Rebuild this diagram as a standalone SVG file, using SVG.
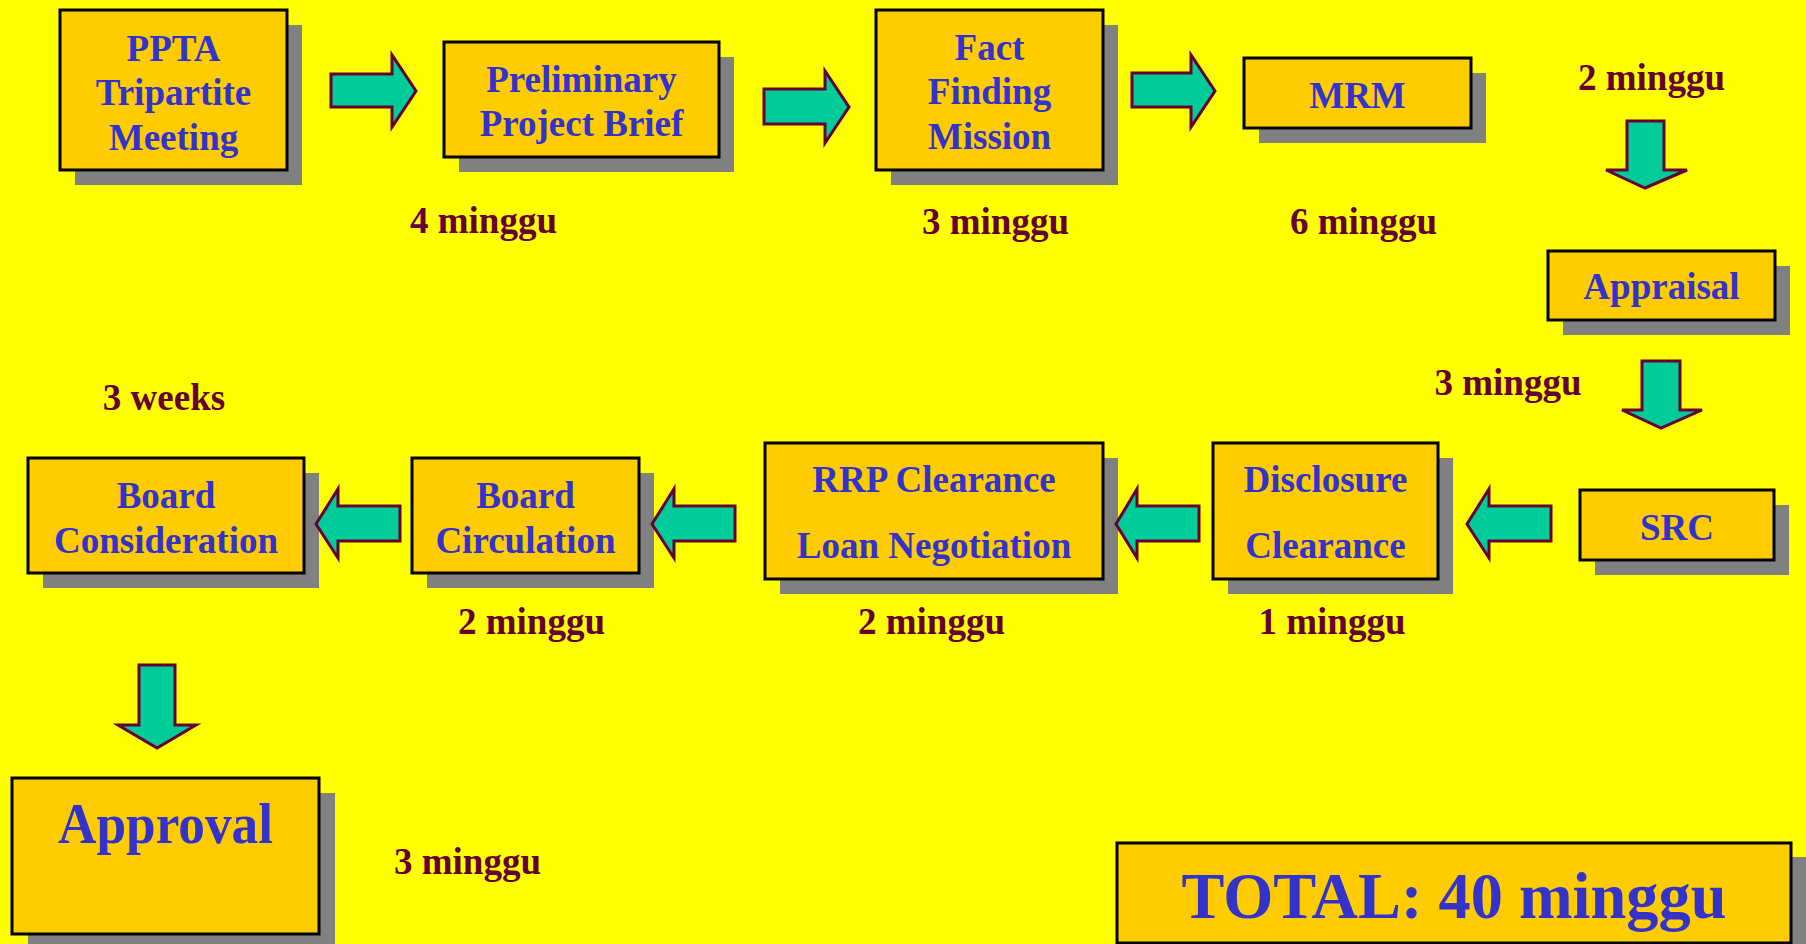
<svg xmlns="http://www.w3.org/2000/svg" width="1806" height="944" viewBox="0 0 1806 944">
<style>
.sh{fill:#808080}
.bx{fill:#FFCC00;stroke:#000;stroke-width:3}
.t{font-family:"Liberation Serif","Times New Roman",serif;font-weight:bold;font-size:37px;fill:#3333CC;text-anchor:middle}
.l{font-family:"Liberation Serif","Times New Roman",serif;font-weight:bold;font-size:37px;fill:#660033;text-anchor:middle}
.ar{fill:#00CC99;stroke:#660033;stroke-width:3;stroke-linejoin:miter}
</style>
<rect width="1806" height="944" fill="#FFFF00"/>
<g id="n-ppta"><rect class="sh" x="75" y="25" width="227" height="160"/><rect class="bx" x="60" y="10" width="227" height="160"/>
<text class="t" x="173.5" y="61">PPTA</text><text class="t" x="173.5" y="105">Tripartite</text><text class="t" x="173.5" y="150">Meeting</text></g>
<g id="n-prelim"><rect class="sh" x="459" y="57" width="275" height="115"/><rect class="bx" x="444" y="42" width="275" height="115"/>
<text class="t" x="581.5" y="92">Preliminary</text><text class="t" x="581.5" y="136">Project Brief</text></g>
<g id="n-fact"><rect class="sh" x="891" y="25" width="227" height="160"/><rect class="bx" x="876" y="10" width="227" height="160"/>
<text class="t" x="989.5" y="60">Fact</text><text class="t" x="989.5" y="104">Finding</text><text class="t" x="989.5" y="149">Mission</text></g>
<g id="n-mrm"><rect class="sh" x="1259" y="73" width="227" height="70"/><rect class="bx" x="1244" y="58" width="227" height="70"/>
<text class="t" x="1357.5" y="108">MRM</text></g>
<g id="n-appraisal"><rect class="sh" x="1563" y="266" width="227" height="69"/><rect class="bx" x="1548" y="251" width="227" height="69"/>
<text class="t" x="1661.5" y="299">Appraisal</text></g>
<g id="n-src"><rect class="sh" x="1595" y="505" width="194" height="70"/><rect class="bx" x="1580" y="490" width="194" height="70"/>
<text class="t" x="1677" y="540">SRC</text></g>
<g id="n-disclosure"><rect class="sh" x="1228" y="458" width="225" height="136"/><rect class="bx" x="1213" y="443" width="225" height="136"/>
<text class="t" x="1325.5" y="492">Disclosure</text><text class="t" x="1325.5" y="558">Clearance</text></g>
<g id="n-rrp"><rect class="sh" x="780" y="458" width="338" height="136"/><rect class="bx" x="765" y="443" width="338" height="136"/>
<text class="t" x="934" y="492">RRP Clearance</text><text class="t" x="934" y="558">Loan Negotiation</text></g>
<g id="n-boardcirc"><rect class="sh" x="427" y="473" width="227" height="115"/><rect class="bx" x="412" y="458" width="227" height="115"/>
<text class="t" x="525.5" y="508">Board</text><text class="t" x="525.5" y="553">Circulation</text></g>
<g id="n-boardcons"><rect class="sh" x="43" y="473" width="276" height="115"/><rect class="bx" x="28" y="458" width="276" height="115"/>
<text class="t" x="166" y="508">Board</text><text class="t" x="166" y="553">Consideration</text></g>
<g id="n-approval"><rect class="sh" x="28" y="793" width="307" height="156"/><rect class="bx" x="12" y="778" width="307" height="156"/>
<text class="t" x="165.5" y="843" style="font-size:56px" textLength="215" lengthAdjust="spacingAndGlyphs">Approval</text></g>
<g id="n-total"><rect class="sh" x="1131" y="857" width="690" height="100"/><rect class="bx" x="1117" y="843" width="674" height="100"/>
<text class="t" x="1454" y="918" style="font-size:65px" textLength="545" lengthAdjust="spacingAndGlyphs">TOTAL: 40 minggu</text></g>
<g id="labels">
<text class="l" x="483.5" y="233">4 minggu</text>
<text class="l" x="995.5" y="234">3 minggu</text>
<text class="l" x="1363.5" y="234">6 minggu</text>
<text class="l" x="1651.5" y="90">2 minggu</text>
<text class="l" x="1508" y="395">3 minggu</text>
<text class="l" x="164" y="410">3 weeks</text>
<text class="l" x="531.5" y="634">2 minggu</text>
<text class="l" x="931.5" y="634">2 minggu</text>
<text class="l" x="1332" y="634">1 minggu</text>
<text class="l" x="467.5" y="874">3 minggu</text>
</g>
<g id="connectors">
<path class="ar" d="M331,74 H392 V55 L416,91 L392,127 V107 H331 Z"/>
<path class="ar" d="M764,89 H825 V71 L849,107 L825,143 V124 H764 Z"/>
<path class="ar" d="M1132,73 H1191 V55 L1215,91 L1191,127 V107 H1132 Z"/>
<path class="ar" d="M1627,121 H1664 V170 H1687 L1645,188 L1606,170 H1627 Z"/>
<path class="ar" d="M1642,361 H1680 V410 H1702 L1661,428 L1622,410 H1642 Z"/>
<path class="ar" d="M1551,506 V541 H1489 V558 L1467,524 L1489,489 V506 Z"/>
<path class="ar" d="M1199,506 V541 H1137 V558 L1116,524 L1137,489 V506 Z"/>
<path class="ar" d="M735,506 V541 H674 V558 L652,524 L674,489 V506 Z"/>
<path class="ar" d="M400,506 V541 H338 V558 L316,524 L338,489 V506 Z"/>
<path class="ar" d="M139,665 H175 V725 H196 L157,748 L118,725 H139 Z"/>
</g>
</svg>
